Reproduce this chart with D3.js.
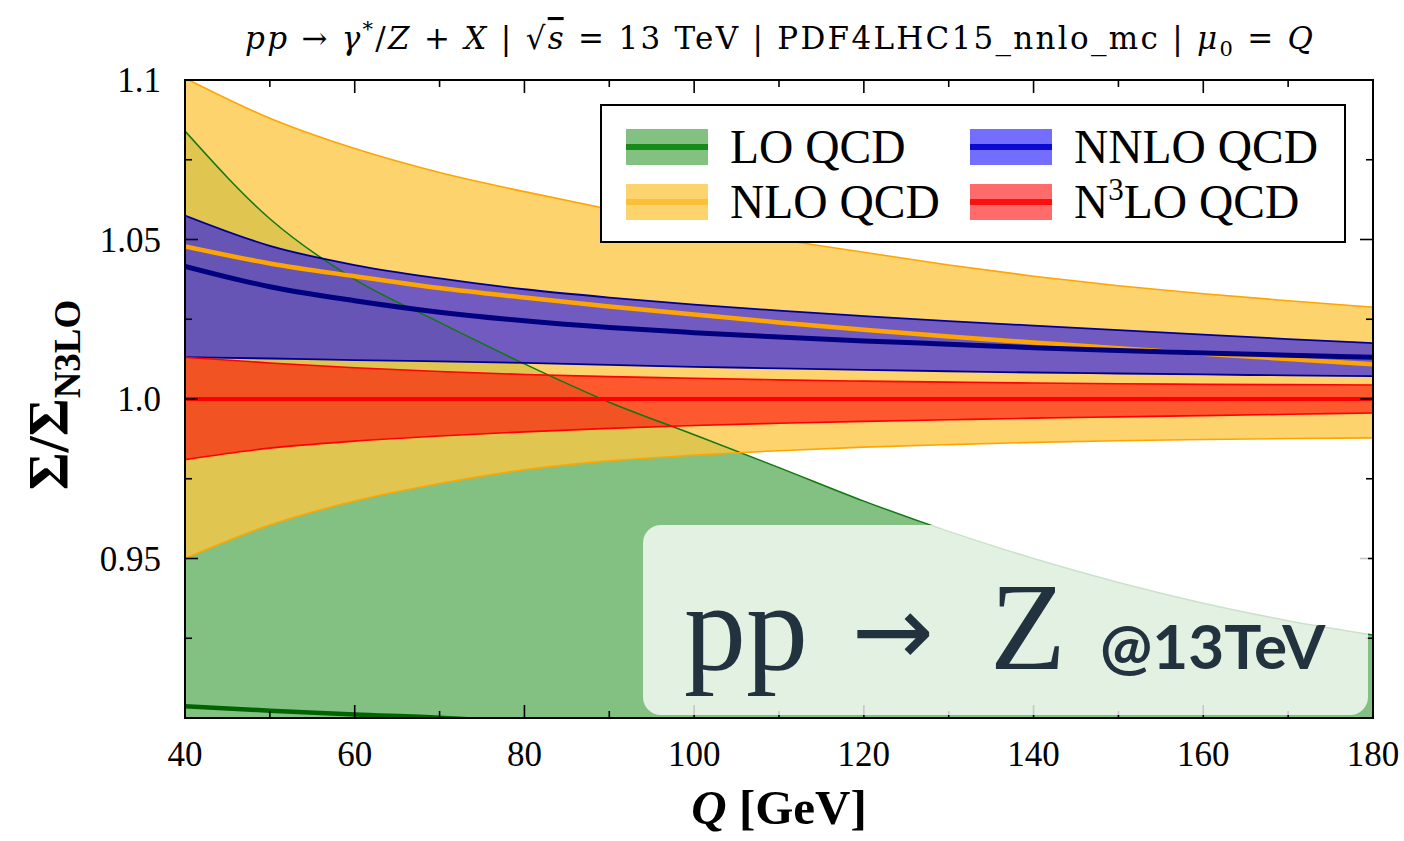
<!DOCTYPE html>
<html>
<head>
<meta charset="utf-8">
<script src="https://cdn.jsdelivr.net/npm/d3@7"></script>
<style>
  body { margin: 0; background: #fff; }
  svg text { font-family: "Liberation Serif", "DejaVu Serif", serif; }
</style>
</head>
<body>
<div id="main-chart"></div>
<script>
// Ratio to N3LO for pp -> Z, bands

var Q = [40, 50, 60, 70, 80, 90, 100, 110, 120, 130, 140, 150, 160, 170, 180];

var loUpper   = [1.0840, 1.0565, 1.0375, 1.0240, 1.0110, 0.9990, 0.9888, 0.9785, 0.9680, 0.9585, 0.9500, 0.9425, 0.9360, 0.9305, 0.9260];
var loCentral = [0.9037, 0.9023, 0.9011, 0.9001, 0.8985];

var nloUpper   = [1.1006, 1.0880, 1.0785, 1.0710, 1.0650, 1.0595, 1.0545, 1.0500, 1.0460, 1.0420, 1.0385, 1.0355, 1.0330, 1.0308, 1.0288];
var nloCentral = [1.0478, 1.0425, 1.0385, 1.0348, 1.0318, 1.0290, 1.0265, 1.0240, 1.0217, 1.0196, 1.0177, 1.0159, 1.0142, 1.0125, 1.0109];
var nloLower   = [0.9500, 0.9605, 0.9680, 0.9735, 0.9778, 0.9806, 0.9824, 0.9838, 0.9849, 0.9857, 0.9864, 0.9869, 0.9873, 0.9876, 0.9878];

var nnloUpper   = [1.0575, 1.0480, 1.0420, 1.0378, 1.0344, 1.0318, 1.0296, 1.0277, 1.0260, 1.0244, 1.0230, 1.0216, 1.0202, 1.0188, 1.0175];
var nnloCentral = [1.0416, 1.0352, 1.0308, 1.0272, 1.0245, 1.0224, 1.0208, 1.0194, 1.0182, 1.0172, 1.0161, 1.0152, 1.0144, 1.0137, 1.0131];
var nnloLower   = [1.0131, 1.0127, 1.0122, 1.0118, 1.0113, 1.0107, 1.0101, 1.0096, 1.0091, 1.0087, 1.0083, 1.0080, 1.0077, 1.0074, 1.0072];

var n3loUpper   = [1.0131, 1.0113, 1.0098, 1.0086, 1.0077, 1.0070, 1.0065, 1.0060, 1.0056, 1.0053, 1.0050, 1.0048, 1.0046, 1.0045, 1.0044];
var n3loCentral = [1.0, 1.0, 1.0, 1.0, 1.0, 1.0, 1.0, 1.0, 1.0, 1.0, 1.0, 1.0, 1.0, 1.0, 1.0];
var n3loLower   = [0.9810, 0.9846, 0.9868, 0.9884, 0.9897, 0.9908, 0.9917, 0.9924, 0.9930, 0.9935, 0.9940, 0.9944, 0.9948, 0.9952, 0.9956];

var xMajor = [40, 60, 80, 100, 120, 140, 160, 180];
var xMinor = [50, 70, 90, 110, 130, 150, 170];
var yMajor = [0.95, 1.0, 1.05, 1.1];
var yMajorLabels = ["0.95", "1.0", "1.05", "1.1"];
var yMinor = [0.925, 0.975, 1.025, 1.075];

var legendNames = ["LO QCD", "NLO QCD", "NNLO QCD", "N3LO QCD"];

var margin = { top: 80, right: 31, bottom: 123, left: 185 },
  width = 1404 - margin.left - margin.right,
  height = 841 - margin.top - margin.bottom;

var xScale = d3.scaleLinear().domain([40, 180]).range([0, width]);
var yScale = d3.scaleLinear().domain([0.9, 1.1]).range([height, 0]);

var svg = d3
  .select("#main-chart")
  .append("svg")
  .attr("width", 1404)
  .attr("height", 841);

var g = svg
  .append("g")
  .attr("transform", "translate(" + margin.left + "," + margin.top + ")");

g.append("clipPath")
  .attr("id", "plot-clip")
  .append("rect")
  .attr("width", width)
  .attr("height", height);

var plot = g.append("g").attr("clip-path", "url(#plot-clip)");

function zipped(values) {
  return values.map(function(v, i) {
    return { q: Q[i], v: v };
  });
}

function band(upper, lower) {
  return upper.map(function(v, i) {
    return { q: Q[i], hi: v, lo: lower ? lower[i] : null };
  });
}

var lineGenerator = d3
  .line()
  .x(function(d) { return xScale(d.q); })
  .y(function(d) { return yScale(d.v); })
  .curve(d3.curveMonotoneX);

// LO band has its lower edge below the frame, so run it past the bottom
var areaGenerator = d3
  .area()
  .x(function(d) { return xScale(d.q); })
  .y0(function(d) { return d.lo === null ? height + 20 : yScale(d.lo); })
  .y1(function(d) { return yScale(d.hi); })
  .curve(d3.curveMonotoneX);

// fills, stacked with transparency
var fills = [
  { data: band(loUpper, null), color: "rgba(0,128,0,0.49)" },
  { data: band(nloUpper, nloLower), color: "rgba(252,198,66,0.77)" },
  { data: band(nnloUpper, nnloLower), color: "rgba(8,0,255,0.57)" },
  { data: band(n3loUpper, n3loLower), color: "rgba(255,0,0,0.58)" }
];
fills.forEach(function(f) {
  plot.append("path").datum(f.data).attr("d", areaGenerator).attr("fill", f.color);
});

// band edges
var edges = [
  { values: loUpper, color: "#107810", w: 1.5 },
  { values: nloUpper, color: "#ffa500", w: 1.6 },
  { values: nloLower, color: "#ffa500", w: 1.6 },
  { values: nnloUpper, color: "#000090", w: 1.8 },
  { values: nnloLower, color: "#000090", w: 1.8 },
  { values: n3loUpper, color: "#ff0000", w: 1.6 },
  { values: n3loLower, color: "#ff0000", w: 1.6 }
];
edges.forEach(function(e) {
  plot.append("path").datum(zipped(e.values)).attr("d", lineGenerator)
    .attr("fill", "none").attr("stroke", e.color).attr("stroke-width", e.w);
});

// central lines
var centrals = [
  { values: loCentral, color: "#006400", w: 4.5 },
  { values: nloCentral, color: "#ffa500", w: 4.5 },
  { values: nnloCentral, color: "#000080", w: 5 },
  { values: n3loCentral, color: "#ff0000", w: 4 }
];
centrals.forEach(function(c) {
  plot.append("path").datum(zipped(c.values)).attr("d", lineGenerator)
    .attr("fill", "none").attr("stroke", c.color).attr("stroke-width", c.w);
});

// ticks on all four sides, pointing in
var ticks = g.append("g").attr("stroke", "#000").attr("stroke-width", 1.6);
function xTick(v, len) {
  ticks.append("line").attr("x1", xScale(v)).attr("x2", xScale(v)).attr("y1", height).attr("y2", height - len);
  ticks.append("line").attr("x1", xScale(v)).attr("x2", xScale(v)).attr("y1", 0).attr("y2", len);
}
function yTick(v, len) {
  ticks.append("line").attr("y1", yScale(v)).attr("y2", yScale(v)).attr("x1", 0).attr("x2", len);
  ticks.append("line").attr("y1", yScale(v)).attr("y2", yScale(v)).attr("x1", width).attr("x2", width - len);
}
xMajor.forEach(function(v) { xTick(v, 13); });
xMinor.forEach(function(v) { xTick(v, 7); });
yMajor.forEach(function(v) { yTick(v, 13); });
yMinor.forEach(function(v) { yTick(v, 7); });

g.append("rect")
  .attr("width", width)
  .attr("height", height)
  .attr("fill", "none")
  .attr("stroke", "#000")
  .attr("stroke-width", 2);

// tick labels
g.selectAll(".xlab")
  .data(xMajor)
  .enter()
  .append("text")
  .attr("x", function(d) { return xScale(d); })
  .attr("y", height + 48)
  .attr("text-anchor", "middle")
  .style("font-size", "35px")
  .text(function(d) { return d; });

g.selectAll(".ylab")
  .data(yMajor)
  .enter()
  .append("text")
  .attr("x", -24)
  .attr("y", function(d) { return yScale(d) + 12; })
  .attr("text-anchor", "end")
  .style("font-size", "35px")
  .text(function(d, i) { return yMajorLabels[i]; });

// legend
var legend = g.append("g").attr("transform", "translate(" + (601 - margin.left) + "," + (105 - margin.top) + ")");
legend.append("rect")
  .attr("width", 744).attr("height", 137)
  .attr("fill", "#fff").attr("stroke", "#000").attr("stroke-width", 2);

var legendFill = ["rgba(0,128,0,0.49)", "rgba(252,198,66,0.77)", "rgba(8,0,255,0.57)", "rgba(255,0,0,0.58)"];
var legendLine = ["#178a17", "#fcc038", "#0a0ad0", "#ff1010"];
legendNames.forEach(function(name, i) {
  var col = Math.floor(i / 2), row = i % 2;
  var px = 25 + col * 344, cy = 42 + row * 55;
  legend.append("rect").attr("x", px).attr("y", cy - 18).attr("width", 82).attr("height", 36).attr("fill", legendFill[i]);
  legend.append("line").attr("x1", px).attr("x2", px + 82).attr("y1", cy).attr("y2", cy)
    .attr("stroke", legendLine[i]).attr("stroke-width", 6);
  var t = legend.append("text").attr("x", px + 104).attr("y", cy + 16).style("font-size", "47.5px");
  if (name === "N3LO QCD") {
    t.append("tspan").text("N");
    t.append("tspan").attr("dy", -18).style("font-size", "31px").text("3");
    t.append("tspan").attr("dy", 18).text("LO QCD");
  } else {
    t.text(name);
  }
});

// overlay label box
var badge = g.append("g");
badge.append("rect")
  .attr("x", 643 - margin.left).attr("y", 525 - margin.top)
  .attr("width", 725).attr("height", 190).attr("rx", 18)
  .attr("fill", "rgba(255,255,255,0.78)");
var bt = badge.append("text")
  .attr("y", 669 - margin.top)
  .attr("fill", "#22333f");
bt.append("tspan").attr("x", 684 - margin.left).style("font-size", "124px").text("pp");
bt.append("tspan").attr("x", 852 - margin.left).attr("dy", -4)
  .style("font-family", "'DejaVu Sans', sans-serif").style("font-size", "98px").text("\u2192");
bt.append("tspan").attr("x", 990 - margin.left).attr("dy", 4).style("font-size", "124px").text("Z");
bt.append("tspan").attr("x", 1100 - margin.left)
  .style("font-family", "Lato, 'Open Sans', sans-serif").style("font-weight", "bold")
  .style("font-size", "62px").text("@13TeV");

// title
var title = svg.append("text")
  .attr("x", 245).attr("y", 49)
  .attr("textLength", 1068)
  .attr("lengthAdjust", "spacing")
  .style("font-family", "'DejaVu Serif', serif")
  .style("font-size", "31px");
title.append("tspan").style("font-style", "italic").text("pp");
title.append("tspan").text(" \u2192 ");
title.append("tspan").style("font-style", "italic").text("\u03b3");
title.append("tspan").attr("dy", -13).style("font-size", "21px").text("*");
title.append("tspan").attr("dy", 13).text("/");
title.append("tspan").style("font-style", "italic").text("Z");
title.append("tspan").text(" + ");
title.append("tspan").style("font-style", "italic").text("X");
title.append("tspan").text(" | \u221a");
title.append("tspan").style("font-style", "italic").style("text-decoration", "overline").text("s");
title.append("tspan").text(" = 13 TeV | PDF4LHC15_nnlo_mc | ");
title.append("tspan").style("font-style", "italic").text("\u03bc");
title.append("tspan").attr("dy", 7).style("font-size", "21px").text("0");
title.append("tspan").attr("dy", -7).text(" = ");
title.append("tspan").style("font-style", "italic").text("Q");

// axis labels
var xl = svg.append("text")
  .attr("x", 779).attr("y", 824)
  .attr("text-anchor", "middle")
  .style("font-size", "49px").style("font-weight", "bold");
xl.append("tspan").style("font-style", "italic").text("Q");
xl.append("tspan").text(" [GeV]");

var yl = svg.append("text")
  .attr("transform", "translate(68," + 395 + ") rotate(-90)")
  .attr("text-anchor", "middle")
  .style("font-size", "58px").style("font-weight", "bold");
yl.append("tspan").text("\u03a3/\u03a3");
yl.append("tspan").attr("dy", 12).style("font-size", "37px").text("N3LO");
</script>
</body>
</html>
